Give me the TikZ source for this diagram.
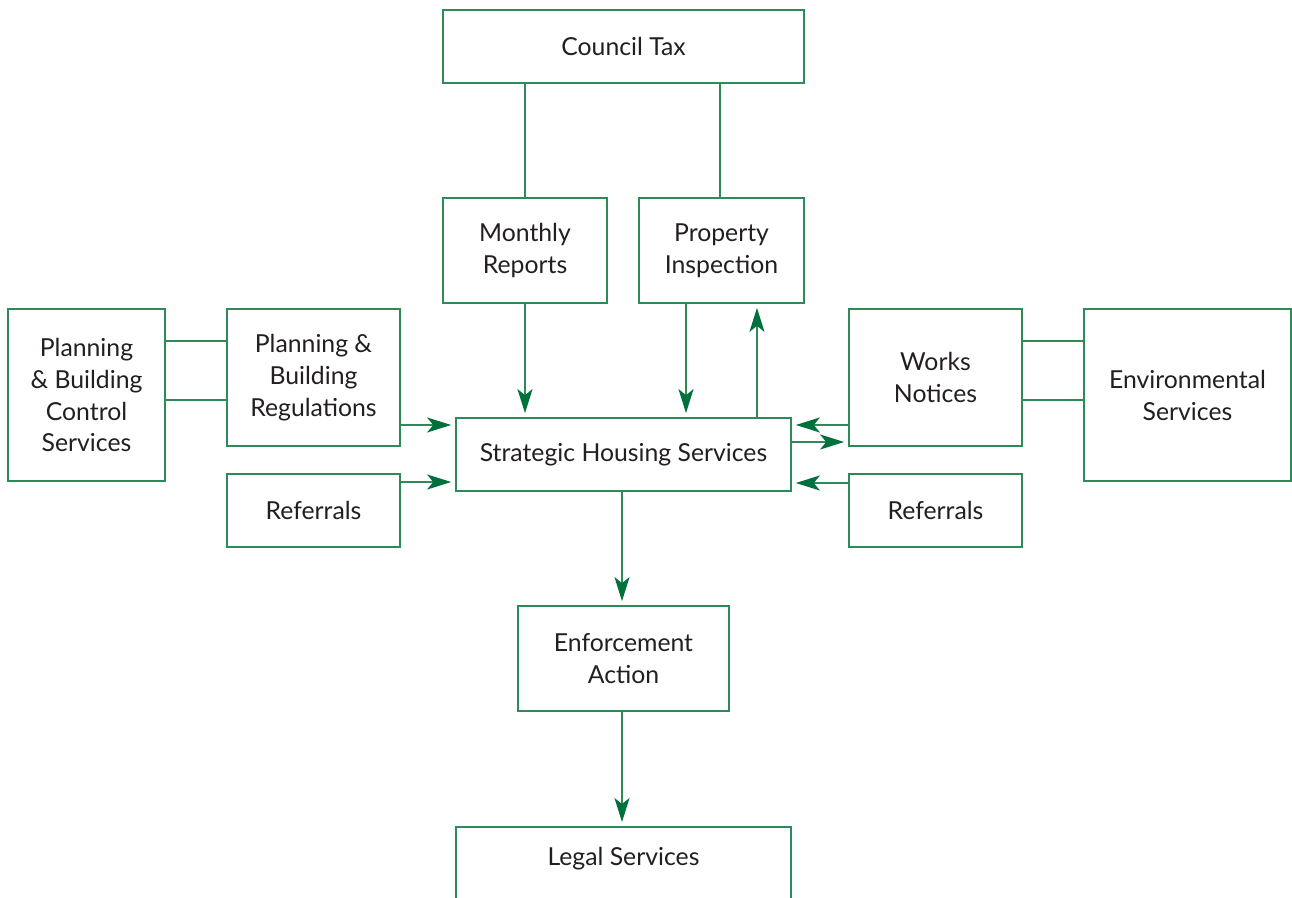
\documentclass[tikz,border=0pt]{standalone}
\usepackage{fontspec}
\setmainfont{Lato}
\usetikzlibrary{arrows.meta}
\definecolor{boxline}{HTML}{2E8B57}
\definecolor{tipgreen}{HTML}{00703C}
\definecolor{ink}{HTML}{231F20}
\begin{document}
\begin{tikzpicture}[x=0.02cm,y=-0.02cm,
  box/.style={draw=boxline, line width=1pt, rectangle, inner sep=0pt,
    align=center, text=ink, font=\fontsize{14.1}{18.2}\selectfont},
  link/.style={draw=boxline, line width=1pt},
  arr/.style={draw=boxline, line width=1pt, shorten >=0.08cm,
    -{Stealth[length=0.48cm, width=0.30cm, inset=0.12cm, fill=tipgreen, color=tipgreen]}}]
\clip (0,0) rectangle (1292,898);
\fill[white] (0,0) rectangle (1292,898);

% top row
\node[box, minimum width=7.22cm, minimum height=1.46cm] (ct) at (623.5,46.5) {Council Tax};
\node[box, minimum width=3.28cm, minimum height=2.10cm] (mr) at (525,250.5) {Monthly\\Reports};
\node[box, minimum width=3.30cm, minimum height=2.10cm] (pi) at (721.5,250.5) {Property\\Inspection};

% left side
\node[box, minimum width=3.14cm, minimum height=3.44cm] (pbcs) at (86.5,395) {Planning\\\& Building\\Control\\Services};
\node[box, minimum width=3.46cm, minimum height=2.74cm] (pbr) at (313.5,377.5) {Planning \&\\Building\\Regulations};
\node[box, minimum width=3.46cm, minimum height=1.46cm] (refl) at (313.5,510.5) {Referrals};

% centre
\node[box, minimum width=6.70cm, minimum height=1.46cm] (shs) at (623.5,454.5) {Strategic Housing Services};

% right side
\node[box, minimum width=3.46cm, minimum height=2.74cm] (wn) at (935.5,377.5) {Works\\Notices};
\node[box, minimum width=4.14cm, minimum height=3.44cm] (env) at (1187.5,395) {Environmental\\Services};
\node[box, minimum width=3.46cm, minimum height=1.46cm] (refr) at (935.5,510.5) {Referrals};

% bottom
\node[box, minimum width=4.22cm, minimum height=2.10cm] (ea) at (623.5,658.5) {Enforcement\\Action};
\node[box, minimum width=6.70cm, minimum height=2.2cm, anchor=north] (legal) at (623.5,826) {};
\node[box, draw=none] (legaltxt) at (623.5,859) {Legal Services};

% plain links
\draw[link] (mr.north |- ct.south) -- (mr.north);
\draw[link] ([xshift=-0.03cm]pi.north |- ct.south) -- ([xshift=-0.03cm]pi.north);
\draw[link] ([yshift=1.08cm]pbcs.east) -- ([yshift=1.08cm]pbcs.east -| pbr.west);
\draw[link] ([yshift=-0.10cm]pbcs.east) -- ([yshift=-0.10cm]pbcs.east -| pbr.west);
\draw[link] ([yshift=1.08cm]env.west) -- ([yshift=1.08cm]env.west -| wn.east);
\draw[link] ([yshift=-0.10cm]env.west) -- ([yshift=-0.10cm]env.west -| wn.east);

% arrows into and out of the centre
\draw[arr] (mr.south) -- (mr.south |- shs.north);
\draw[arr] ([xshift=-0.71cm]pi.south) -- ([xshift=-0.71cm]pi.south |- shs.north);
\draw[arr] ([xshift=2.67cm]shs.north) -- ([xshift=2.67cm]shs.north |- pi.south);
\draw[arr] ([yshift=-0.95cm]pbr.east) -- ([yshift=-0.95cm]pbr.east -| shs.west);
\draw[arr] ([yshift=0.57cm]refl.east) -- ([yshift=0.57cm]refl.east -| shs.west);
\draw[arr] ([yshift=-0.95cm]wn.west) -- ([yshift=-0.95cm]wn.west -| shs.east);
\draw[arr] ([yshift=0.25cm]shs.east) -- ([yshift=0.25cm]shs.east -| wn.west);
\draw[arr] ([yshift=0.55cm]refr.west) -- ([yshift=0.55cm]refr.west -| shs.east);
\draw[arr] ([xshift=-0.03cm]shs.south) -- ([xshift=-0.03cm]ea.north);
\draw[arr] ([xshift=-0.03cm]ea.south) -- ([xshift=-0.03cm]legal.north);
\end{tikzpicture}
\end{document}
